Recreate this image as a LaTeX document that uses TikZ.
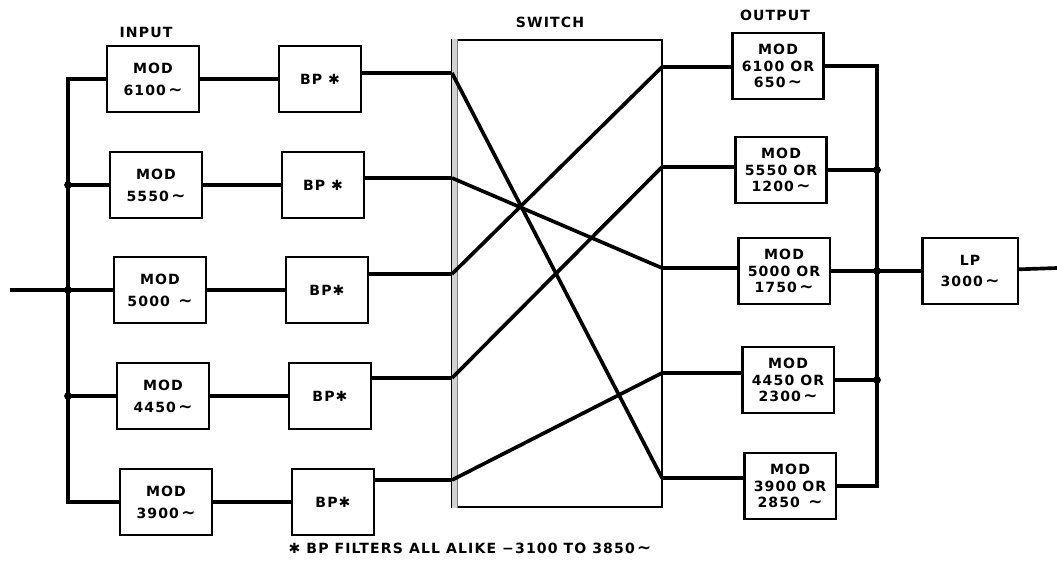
\documentclass[tikz,border=0pt]{standalone}
\usepackage{fontspec}
\newfontfamily\lblfont{DejaVu Sans}[LetterSpace=8]
\usetikzlibrary{positioning, calc}
\newcommand{\lblsize}{\lblfont\bfseries\fontsize{10}{15.5}\selectfont}
\newcommand{\cyc}{\,{\large\textasciitilde}}
\tikzset{
  modblk/.style={rectangle, draw, line width=1.6pt,
                 minimum width=2.3cm, minimum height=1.65cm,
                 align=center, inner sep=1pt, font=\lblsize},
  bpblk/.style={modblk, minimum width=2.05cm},
  outblk/.style={modblk, minimum width=2.28cm,
                 font=\lblfont\bfseries\fontsize{10}{11.6}\selectfont},
  swblk/.style={rectangle, draw, line width=1.2pt,
                minimum width=5.25cm, minimum height=11.675cm},
  wire/.style={line width=2.6pt},
  jdot/.style={circle, fill, inner sep=0pt, minimum size=5.5pt},
  heading/.style={font=\lblsize},
}

\begin{document}
\begin{tikzpicture}[x=0.025cm, y=-0.025cm]
  \useasboundingbox (0,0) rectangle (1057,573);
  % Headings
  \node[heading] (hin) at (146,32) {INPUT};
  \node[heading] (hsw) at (550,22) {SWITCH};
  \node[heading] (hout) at (775,15) {OUTPUT};
  % Input modulators
  \node[modblk] (mod1) at (153,79) {MOD\\6100\cyc};
  \node[modblk] (mod2) at (156,185) {MOD\\5550\cyc};
  \node[modblk] (mod3) at (160,290) {MOD\\5000 \cyc};
  \node[modblk] (mod4) at (163,396) {MOD\\4450\cyc};
  \node[modblk] (mod5) at (166,502) {MOD\\3900\cyc};
  % Band pass filters
  \node[bpblk] (bp1) at (320,79) {BP ✱};
  \node[bpblk] (bp2) at (323,185) {BP ✱};
  \node[bpblk] (bp3) at (327,290) {BP✱};
  \node[bpblk] (bp4) at (330,396) {BP✱};
  \node[bpblk] (bp5) at (333,502) {BP✱};
  % Switch
  \node[swblk] (sw) at (557,273.5) {};
  \fill[gray!35] ($(sw.north west)+(0.6pt,0)$) rectangle ($(sw.south west)+(0.15cm,0)$);
  \draw[gray, line width=0.5pt] ($(sw.north west)+(0.15cm,0)$) -- ($(sw.south west)+(0.15cm,0)$);
  \coordinate (in1) at (452,73);
  \coordinate (in2) at (452,178);
  \coordinate (in3) at (452,274);
  \coordinate (in4) at (452,378);
  \coordinate (in5) at (452,480);
  \coordinate (out1) at (662,67);
  \coordinate (out2) at (662,167);
  \coordinate (out3) at (662,268);
  \coordinate (out4) at (662,373);
  \coordinate (out5) at (662,478);
  % Output modulators
  \node[outblk] (omod1) at (778,66) {MOD\\6100 OR\\650\cyc};
  \node[outblk] (omod2) at (781,170) {MOD\\5550 OR\\1200\cyc};
  \node[outblk] (omod3) at (784,271) {MOD\\5000 OR\\1750\cyc};
  \node[outblk] (omod4) at (788,380) {MOD\\4450 OR\\2300\cyc};
  \node[outblk] (omod5) at (790,486) {MOD\\3900 OR\\2850 \cyc};
  % Low pass
  \node[modblk, minimum width=2.38cm] (lp) at (970,271) {LP\\3000\cyc};
  % Input bus
  \coordinate (src) at (10,290);
  \coordinate (itop) at (68,79);
  \coordinate (ibot) at (68,502);
  \node[jdot] (ij2) at (68,185) {};
  \node[jdot] (ij3) at (68,290) {};
  \node[jdot] (ij4) at (68,396) {};
  \draw[wire] (mod1) -- (itop) -- (ibot) -- (mod5);
  \draw[wire] (ij2.center) -- (mod2);
  \draw[wire] (src) -- (mod3);
  \draw[wire] (ij4.center) -- (mod4);
  % Modulator to filter
  \draw[wire] (mod1) -- (bp1);
  \draw[wire] (mod2) -- (bp2);
  \draw[wire] (mod3) -- (bp3);
  \draw[wire] (mod4) -- (bp4);
  \draw[wire] (mod5) -- (bp5);
  % Filter to switch
  \draw[wire] (bp1.east |- in1) -- (in1);
  \draw[wire] (bp2.east |- in2) -- (in2);
  \draw[wire] (bp3.east |- in3) -- (in3);
  \draw[wire] (bp4.east |- in4) -- (in4);
  \draw[wire] (bp5.east |- in5) -- (in5);
  % Cross connections
  \draw[wire] (in1) -- (out5);
  \draw[wire] (in2) -- (out3);
  \draw[wire] (in3) -- (out1);
  \draw[wire] (in4) -- (out2);
  \draw[wire] (in5) -- (out4);
  % Switch to output modulators
  \draw[wire] (out1) -- (omod1.west |- out1);
  \draw[wire] (out2) -- (omod2.west |- out2);
  \draw[wire] (out3) -- (omod3.west |- out3);
  \draw[wire] (out4) -- (omod4.west |- out4);
  \draw[wire] (out5) -- (omod5.west |- out5);
  % Output bus
  \coordinate (otop) at (877,66);
  \coordinate (obot) at (877,486);
  \node[jdot] (oj2) at (877,170) {};
  \node[jdot] (oj3) at (877,271) {};
  \node[jdot] (oj4) at (877,380) {};
  \draw[wire] (omod1) -- (otop) -- (obot) -- (omod5);
  \draw[wire] (omod2) -- (oj2.center);
  \draw[wire] (omod3) -- (oj3.center) -- (lp);
  \draw[wire] (omod4) -- (oj4.center);
  \coordinate (sink) at (1057,268);
  \draw[wire] (lp) -- (sink);
  % Footnote
  \node[heading] (note) at (470,548) {✱ BP FILTERS ALL ALIKE −3100 TO 3850\cyc};
\end{tikzpicture}
\end{document}
